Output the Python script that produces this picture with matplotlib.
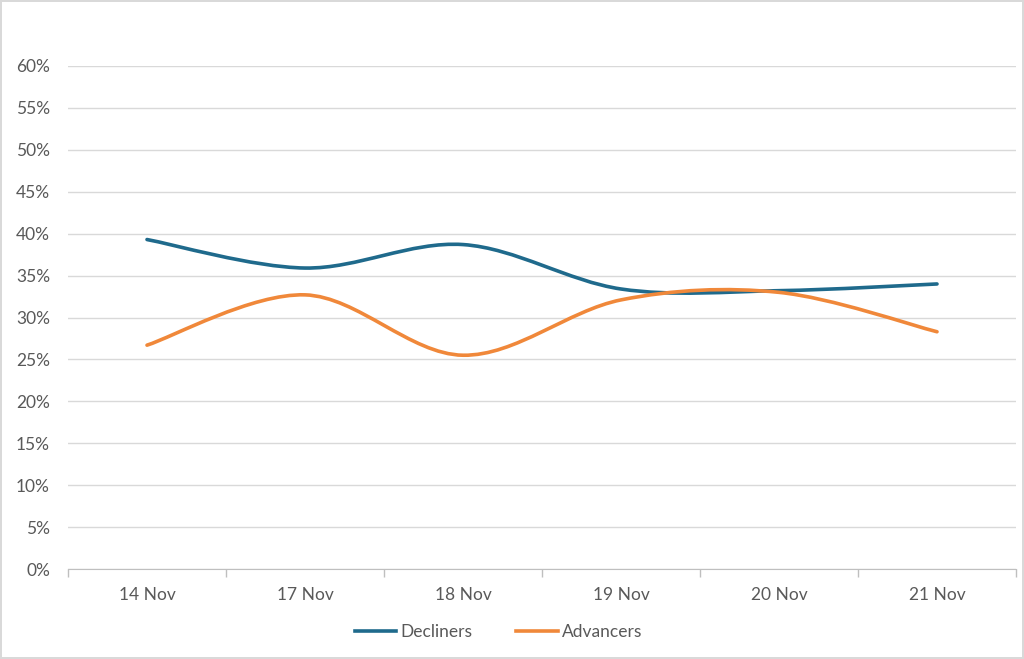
import numpy as np
import matplotlib.pyplot as plt
from matplotlib.path import Path
from matplotlib.patches import PathPatch
from matplotlib.lines import Line2D
from matplotlib.ticker import FuncFormatter, FixedLocator

plt.rcParams['font.family'] = ['Lato', 'DejaVu Sans']

dates = ["14 Nov", "17 Nov", "18 Nov", "19 Nov", "20 Nov", "21 Nov"]
decliners = [0.393, 0.359, 0.387, 0.334, 0.332, 0.340]
advancers = [0.267, 0.327, 0.255, 0.321, 0.330, 0.283]

BLUE = "#1f6a8c"
ORANGE = "#f0883a"
GREY_TXT = "#595959"


def smooth_path(xs, ys):
    # excel-style smoothed line: cubic bezier, control points from neighbours
    pts = np.column_stack([xs, ys]).astype(float)
    n = len(pts)
    verts = [pts[0]]
    codes = [Path.MOVETO]
    for i in range(n - 1):
        p0 = pts[i - 1] if i > 0 else pts[i]
        p1, p2 = pts[i], pts[i + 1]
        p3 = pts[i + 2] if i + 2 < n else pts[i + 1]
        c1 = p1 + (p2 - p0) / 6.0
        c2 = p2 - (p3 - p1) / 6.0
        verts += [c1, c2, p2]
        codes += [Path.CURVE4] * 3
    return Path(verts, codes)


fig = plt.figure(figsize=(10.24, 6.59), dpi=100)
fig.patch.set_edgecolor("#d9d9d9")
fig.patch.set_linewidth(1.5)
ax = fig.add_axes([68 / 1024, 1 - 569 / 659, (1016 - 68) / 1024, (569 - 66) / 659])

x = np.arange(len(dates))
for vals, col in [(decliners, BLUE), (advancers, ORANGE)]:
    ax.add_patch(PathPatch(smooth_path(x, vals), facecolor="none", edgecolor=col,
                           lw=2.6, capstyle="round", joinstyle="round", zorder=3))

ax.set_xlim(-0.5, len(dates) - 0.5)
ax.set_ylim(0, 0.6)
ax.set_yticks(np.arange(0, 0.61, 0.05))
ax.yaxis.set_major_formatter(FuncFormatter(lambda v, p: f"{v * 100:.0f}%"))
ax.set_xticks(x)
ax.set_xticklabels(dates)
ax.xaxis.set_minor_locator(FixedLocator(np.arange(-0.5, len(dates), 1.0)))
ax.tick_params(axis="x", which="major", length=0, pad=13, labelsize=12.5, labelcolor=GREY_TXT)
ax.tick_params(axis="x", which="minor", length=6, color="#bfbfbf", width=1)
ax.tick_params(axis="y", length=0, pad=13, labelsize=12.5, labelcolor=GREY_TXT)

ax.grid(axis="y", color="#d9d9d9", lw=1)
ax.set_axisbelow(True)
for s in ["top", "right", "left"]:
    ax.spines[s].set_visible(False)
ax.spines["bottom"].set_color("#bfbfbf")

handles = [Line2D([], [], color=BLUE, lw=2.6), Line2D([], [], color=ORANGE, lw=2.6)]
fig.legend(handles, ["Decliners", "Advancers"], loc="center", bbox_to_anchor=(0.487, 1 - 632 / 659),
           ncol=2, frameon=False, fontsize=12.5, labelcolor=GREY_TXT, handlelength=2.4,
           handletextpad=0.25, columnspacing=2.5)

fig.savefig("out.png", dpi=100, edgecolor=fig.get_edgecolor())
